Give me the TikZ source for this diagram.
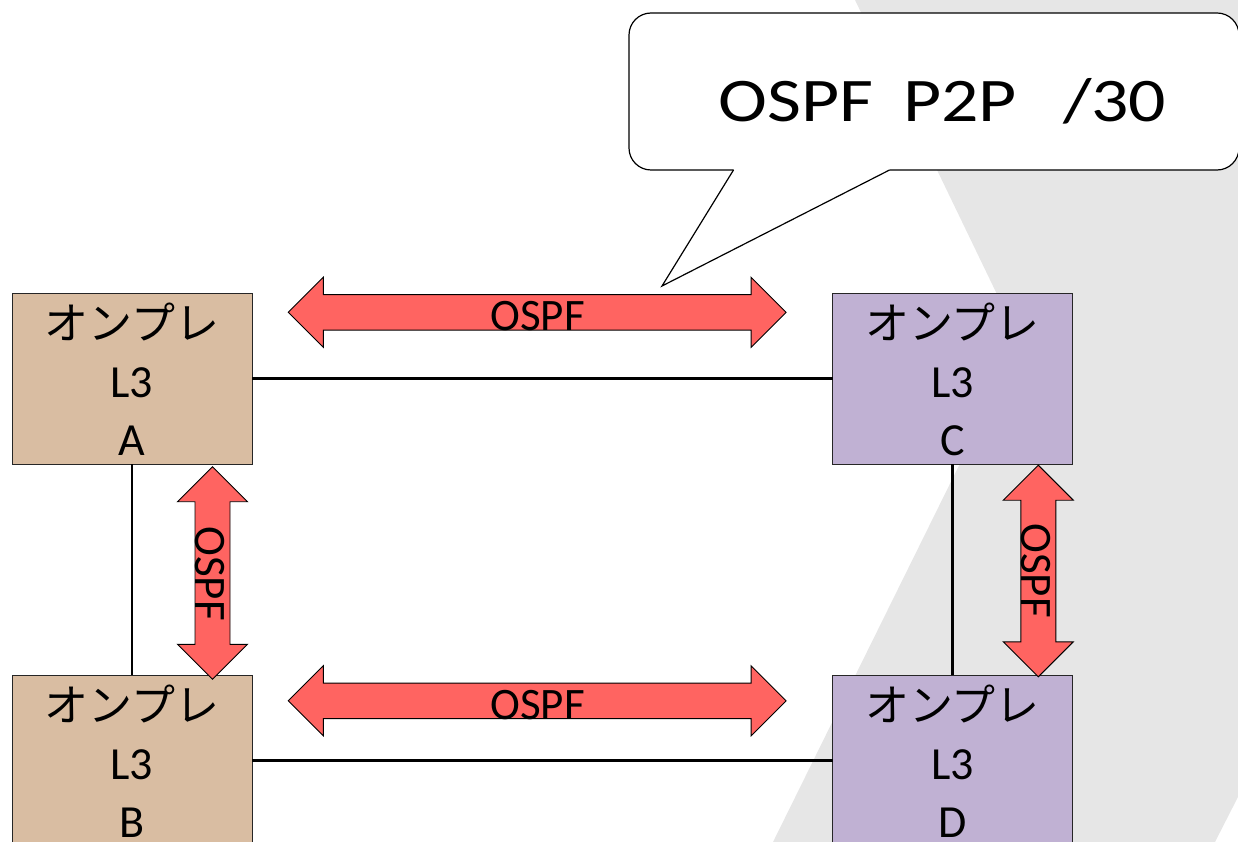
\documentclass[tikz,border=0pt]{standalone}
\usepackage{fontspec}
\setmainfont{Carlito}
\newfontfamily\jpfont{Noto Sans CJK JP}
\newfontfamily\callfont[FakeStretch=1.19]{Carlito}
\usetikzlibrary{calc}
\definecolor{tanfill}{HTML}{D9BDA2}
\definecolor{lavfill}{HTML}{C0B1D3}
\definecolor{ospfred}{HTML}{FF6461}
\definecolor{bggray}{HTML}{E6E6E6}
% horizontal double arrow: centre x, centre y, half length
\newcommand{\ospfH}[3]{%
  \draw[arrowshape] ({#1-#3},#2) -- ({#1-#3+35},{#2-35}) -- ({#1-#3+35},{#2-17.75})
    -- ({#1+#3-35},{#2-17.75}) -- ({#1+#3-35},{#2-35}) -- ({#1+#3},#2)
    -- ({#1+#3-35},{#2+35}) -- ({#1+#3-35},{#2+17.75}) -- ({#1-#3+35},{#2+17.75})
    -- ({#1-#3+35},{#2+35}) -- cycle;}
% vertical double arrow: centre x, centre y, half length
\newcommand{\ospfV}[3]{%
  \draw[arrowshape] (#1,{#2-#3}) -- ({#1+35},{#2-#3+35}) -- ({#1+17.5},{#2-#3+35})
    -- ({#1+17.5},{#2+#3-35}) -- ({#1+35},{#2+#3-35}) -- (#1,{#2+#3})
    -- ({#1-35},{#2+#3-35}) -- ({#1-17.5},{#2+#3-35}) -- ({#1-17.5},{#2-#3+35})
    -- ({#1-35},{#2-#3+35}) -- cycle;}
\begin{document}
\begin{tikzpicture}[x=1pt,y=-1pt,
  box/.style={draw=black!85, line width=0.9pt, minimum width=240, minimum height=171, inner sep=0pt, outer sep=0pt},
  jptext/.style={font=\jpfont\fontsize{44}{56}\selectfont, inner sep=0pt, anchor=base},
  lattext/.style={font=\fontsize{46}{56}\selectfont, inner sep=0pt, anchor=base},
  arrowshape/.style={fill=ospfred, draw=black, line width=0.9pt, line join=miter},
  arrowtext/.style={font=\fontsize{45}{54}\selectfont, inner sep=0pt, anchor=base},
  link/.style={draw=black, line width=2.1pt},
  calloutbox/.style={draw=black, line width=1.2pt, fill=white, rounded corners=22, minimum width=610, minimum height=157, inner sep=0pt}
]
\useasboundingbox (0,0) rectangle (1238,842);
% background band
\fill[bggray] (855,0) -- (1240,0) -- (1240,793) -- (1215,842) -- (773,842) -- (1020,342) -- cycle;

% callout
\node[calloutbox] (call) at (934,91.5) {};
\fill[white] (733.5,168) -- (733.5,170.5) -- (662,286) -- (889.5,170.5) -- (889.5,168) -- cycle;
\coordinate (tip) at (662,286);
\draw[black, line width=1.2pt, line join=miter] (733.5,170) -- (tip) -- (889.5,170);
\node[font=\callfont\fontsize{62}{70}\selectfont, inner sep=0pt, anchor=base] (calltext) at (942.5,121.5) {OSPF\hspace{30pt}P2P\hspace{46pt}/30};

% boxes
\node[box, fill=tanfill] (A) at (132,378.5) {};
\node[box, fill=tanfill] (B) at (132,760.5) {};
\node[box, fill=lavfill] (C) at (952.5,378.5) {};
\node[box, fill=lavfill] (D) at (952.5,760.5) {};

% links
\draw[link] (A.east) -- (C.west);
\draw[link] (A.south) -- (B.north);
\draw[link] (C.south) -- (D.north);
\draw[link] (B.east) -- (D.west);

% box texts
\foreach \n/\l in {A/A, B/B, C/C, D/D}{
  \node[jptext] (\n-1) at ($(\n.north)+(0,46)$) {オンプレ};
  \node[lattext] (\n-2) at ($(\n.north)+(0,104)$) {L3};
  \node[lattext] (\n-3) at ($(\n.north)+(0,162)$) {\l};
}

% OSPF arrows
\ospfH{537.2}{312.3}{248.9}
\node[arrowtext] (ospfAC) at (537.5,330.5) {OSPF};
\ospfH{537.2}{700.8}{248.9}
\node[arrowtext] (ospfBD) at (537.5,719) {OSPF};
\ospfV{212.5}{573}{106.3}
\node[arrowtext, rotate=-90] (ospfAB) at (195.5,573.5) {OSPF};
\ospfV{1038.3}{571}{105.8}
\node[arrowtext, rotate=-90] (ospfCD) at (1021,570.5) {OSPF};
\end{tikzpicture}
\end{document}
